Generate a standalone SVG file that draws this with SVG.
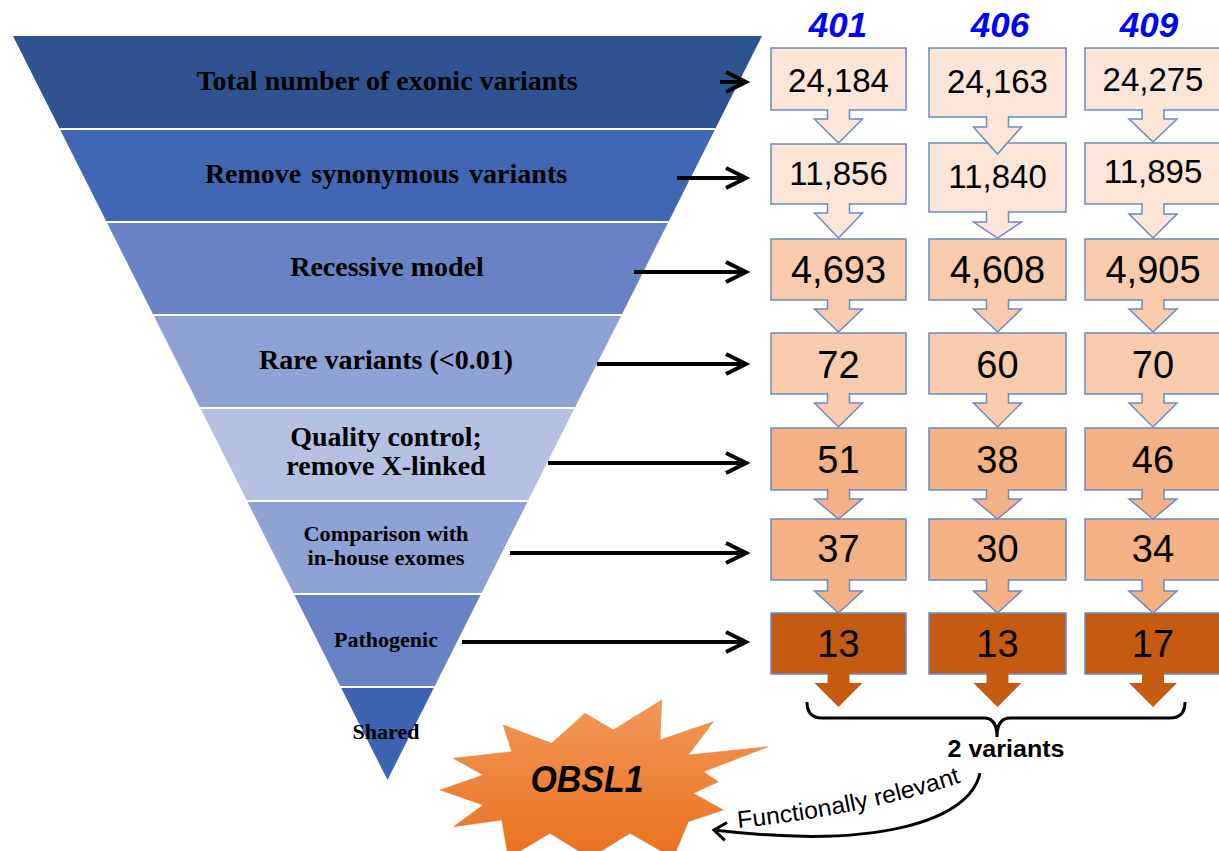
<svg xmlns="http://www.w3.org/2000/svg" width="1219" height="851" viewBox="0 0 1219 851">
<defs>
<style>
.band text{font-family:"Liberation Serif","Times New Roman",serif;font-weight:bold;fill:#000;text-anchor:middle}
.t1{font-size:28px}
.t2{font-size:22px}
.t3{font-size:20.5px}
.sep{stroke:#fff;stroke-width:2}
.box rect{stroke:#6a8ac4;stroke-width:1.5}
.num{font-family:"Liberation Sans",Arial,sans-serif;fill:#000;text-anchor:middle}
.n1{font-size:33px}
.n2{font-size:38px}
.hdr{font-family:"Liberation Sans",Arial,sans-serif;font-weight:bold;font-style:italic;font-size:35px;fill:#0000ff;text-anchor:middle}
.ha{stroke:#000;stroke-width:4;fill:none;marker-end:url(#chev)}
.ba{stroke:#6a8ac4;stroke-width:1.5}
.c1{fill:#fbe5d6}.c2{fill:#f8cbad}.c3{fill:#f4b183}.c4{fill:#c55a11}
</style>
<marker id="chev" viewBox="-26 -15 30 30" markerWidth="30" markerHeight="30" refX="0" refY="0" markerUnits="userSpaceOnUse" orient="auto" overflow="visible">
<path d="M-20,-10 L0,0 L-20,10" fill="none" stroke="#000" stroke-width="4"/>
</marker>
<marker id="chev2" viewBox="-20 -15 25 30" markerWidth="25" markerHeight="30" refX="0" refY="0" markerUnits="userSpaceOnUse" orient="auto" overflow="visible">
<path d="M-12,-9 L0,0 L-12,9" fill="none" stroke="#000" stroke-width="3"/>
</marker>
<linearGradient id="starg" x1="0" y1="0" x2="0" y2="1">
<stop offset="0" stop-color="#f39759"/>
<stop offset="1" stop-color="#e9711e"/>
</linearGradient>
<path id="frpath" d="M 738 828 Q 870 815 980 776"/>
</defs>

<g id="funnel">
<g id="band1" class="band"><polygon points="13,36 762,36 715.2,129 59.8,129" fill="#2f5290"/><text class="t1" x="387" y="90">Total number of exonic variants</text></g>
<g id="band2" class="band"><polygon points="59.8,129 715.2,129 668.4,222 106.6,222" fill="#4066b4"/><text class="t1" x="386" y="183" word-spacing="3">Remove synonymous variants</text></g>
<g id="band3" class="band"><polygon points="106.6,222 668.4,222 621.6,315 153.4,315" fill="#6783c5"/><text class="t1" x="387" y="276">Recessive model</text></g>
<g id="band4" class="band"><polygon points="153.4,315 621.6,315 574.7,408 200.3,408" fill="#8fa2d4"/><text class="t1" x="386" y="369">Rare variants (&lt;0.01)</text></g>
<g id="band5" class="band"><polygon points="200.3,408 574.7,408 527.9,501 247.1,501" fill="#b4c1e2"/><text class="t1" x="386" y="446">Quality control;</text><text class="t1" x="386" y="475">remove X-linked</text></g>
<g id="band6" class="band"><polygon points="247.1,501 527.9,501 481.1,594 293.9,594" fill="#8fa2d4"/><text class="t3" x="386" y="541" textLength="165" lengthAdjust="spacingAndGlyphs">Comparison with</text><text class="t3" x="386" y="565" textLength="157" lengthAdjust="spacingAndGlyphs">in-house exomes</text></g>
<g id="band7" class="band"><polygon points="293.9,594 481.1,594 434.3,687 340.7,687" fill="#6783c5"/><text class="t2" x="386" y="647">Pathogenic</text></g>
<g id="band8" class="band"><polygon points="340.7,687 434.3,687 387.5,780" fill="#3d64b2"/><text class="t2" x="386" y="739">Shared</text></g>
<g id="separators" class="sep">
<line x1="59.8" y1="129" x2="715.2" y2="129"/>
<line x1="106.6" y1="222" x2="668.4" y2="222"/>
<line x1="153.4" y1="315" x2="621.6" y2="315"/>
<line x1="200.3" y1="408" x2="574.7" y2="408"/>
<line x1="247.1" y1="501" x2="527.9" y2="501"/>
<line x1="293.9" y1="594" x2="481.1" y2="594"/>
<line x1="340.7" y1="687" x2="434.3" y2="687"/>
</g>
</g>

<g id="headers">
<text class="hdr" x="838" y="37">401</text>
<text class="hdr" x="1000" y="37">406</text>
<text class="hdr" x="1149" y="37">409</text>
</g>

<g id="boxes">
<g id="b401r1" class="box"><rect class="c1" x="771" y="48" width="135" height="62"/><text class="num n1" x="838.5" y="92">24,184</text></g>
<g id="b406r1" class="box"><rect class="c1" x="929" y="48" width="137" height="69"/><text class="num n1" x="997.5" y="93">24,163</text></g>
<g id="b409r1" class="box"><rect class="c1" x="1085" y="48" width="136" height="62"/><text class="num n1" x="1153" y="91">24,275</text></g>

<g id="b401r2" class="box"><rect class="c1" x="771" y="144" width="135" height="60"/><text class="num n1" x="838.5" y="185">11,856</text></g>
<g id="b406r2" class="box"><rect class="c1" x="929" y="143" width="137" height="69"/><text class="num n1" x="997.5" y="188">11,840</text></g>
<g id="b409r2" class="box"><rect class="c1" x="1085" y="143" width="136" height="61"/><text class="num n1" x="1153" y="183">11,895</text></g>

<g id="b401r3" class="box"><rect class="c2" x="771" y="239" width="135" height="61"/><text class="num n2" x="838.5" y="283">4,693</text></g>
<g id="b406r3" class="box"><rect class="c2" x="929" y="239" width="137" height="61"/><text class="num n2" x="997.5" y="283">4,608</text></g>
<g id="b409r3" class="box"><rect class="c2" x="1085" y="239" width="136" height="61"/><text class="num n2" x="1153" y="283">4,905</text></g>

<g id="b401r4" class="box"><rect class="c2" x="771" y="333" width="135" height="61"/><text class="num n2" x="838.5" y="378">72</text></g>
<g id="b406r4" class="box"><rect class="c2" x="929" y="333" width="137" height="61"/><text class="num n2" x="997.5" y="378">60</text></g>
<g id="b409r4" class="box"><rect class="c2" x="1085" y="333" width="136" height="61"/><text class="num n2" x="1153" y="378">70</text></g>

<g id="b401r5" class="box"><rect class="c3" x="771" y="428" width="135" height="62"/><text class="num n2" x="838.5" y="473">51</text></g>
<g id="b406r5" class="box"><rect class="c3" x="929" y="428" width="137" height="62"/><text class="num n2" x="997.5" y="473">38</text></g>
<g id="b409r5" class="box"><rect class="c3" x="1085" y="428" width="136" height="62"/><text class="num n2" x="1153" y="473">46</text></g>

<g id="b401r6" class="box"><rect class="c3" x="771" y="519" width="135" height="61"/><text class="num n2" x="838.5" y="562">37</text></g>
<g id="b406r6" class="box"><rect class="c3" x="929" y="519" width="137" height="61"/><text class="num n2" x="997.5" y="562">30</text></g>
<g id="b409r6" class="box"><rect class="c3" x="1085" y="519" width="136" height="61"/><text class="num n2" x="1153" y="562">34</text></g>

<g id="b401r7" class="box"><rect class="c4" x="771" y="613" width="135" height="61"/><text class="num n2" x="838.5" y="657">13</text></g>
<g id="b406r7" class="box"><rect class="c4" x="929" y="613" width="137" height="61"/><text class="num n2" x="997.5" y="657">13</text></g>
<g id="b409r7" class="box"><rect class="c4" x="1085" y="613" width="136" height="61"/><text class="num n2" x="1153" y="657">17</text></g>
</g>

<g id="connectors">
<g id="step-arrows">
<path class="ha" d="M720,82 H746"/>
<path class="ha" d="M677,178 H746"/>
<path class="ha" d="M634,272 H746"/>
<path class="ha" d="M597,364 H746"/>
<path class="ha" d="M548,463 H746"/>
<path class="ha" d="M510,553 H746"/>
<path class="ha" d="M462,642 H746"/>
</g>
<g id="block-arrows" class="ba">
<path class="c1" d="M827.5,109 V119 H814.5 L838.5,143 L862.5,119 H849.5 V109"/>
<path class="c1" d="M986.5,116 V127 H973.5 L997.5,154 L1021.5,127 H1008.5 V116"/>
<path class="c1" d="M1142,109 V119 H1129 L1153,142 L1177,119 H1164 V109"/>

<path class="c1" d="M827.5,203 V213 H814.5 L838.5,238 L862.5,213 H849.5 V203"/>
<path class="c1" d="M986.5,211 V222 H973.5 L997.5,238 L1021.5,222 H1008.5 V211"/>
<path class="c1" d="M1142,203 V214 H1129 L1153,238 L1177,214 H1164 V203"/>

<path class="c2" d="M827.5,299 V309 H814.5 L838.5,332 L862.5,309 H849.5 V299"/>
<path class="c2" d="M986.5,299 V309 H973.5 L997.5,332 L1021.5,309 H1008.5 V299"/>
<path class="c2" d="M1142,299 V309 H1129 L1153,332 L1177,309 H1164 V299"/>

<path class="c2" d="M827.5,393 V403 H814.5 L838.5,427 L862.5,403 H849.5 V393"/>
<path class="c2" d="M986.5,393 V403 H973.5 L997.5,427 L1021.5,403 H1008.5 V393"/>
<path class="c2" d="M1142,393 V403 H1129 L1153,427 L1177,403 H1164 V393"/>

<path class="c3" d="M827.5,489 V499 H814.5 L838.5,519 L862.5,499 H849.5 V489"/>
<path class="c3" d="M986.5,489 V499 H973.5 L997.5,519 L1021.5,499 H1008.5 V489"/>
<path class="c3" d="M1142,489 V499 H1129 L1153,519 L1177,499 H1164 V489"/>

<path class="c3" d="M827.5,579 V591 H814.5 L838.5,613 L862.5,591 H849.5 V579"/>
<path class="c3" d="M986.5,579 V591 H973.5 L997.5,613 L1021.5,591 H1008.5 V579"/>
<path class="c3" d="M1142,579 V591 H1129 L1153,613 L1177,591 H1164 V579"/>

<path class="c4" stroke="none" d="M827.5,673 V683 H814.5 L838.5,707 L862.5,683 H849.5 V673 Z"/>
<path class="c4" stroke="none" d="M986.5,673 V683 H973.5 L997.5,707 L1021.5,683 H1008.5 V673 Z"/>
<path class="c4" stroke="none" d="M1142,673 V683 H1129 L1153,707 L1177,683 H1164 V673 Z"/>
</g>
<path id="brace" d="M807,702 Q807,718 822,718 H984 Q997,718 997,737 Q997,718 1010,718 H1170 Q1185,718 1185,702" fill="none" stroke="#000" stroke-width="3"/>
<path id="curved-arrow" d="M980,773 C970,820 880,850 714,830" fill="none" stroke="#000" stroke-width="3" marker-end="url(#chev2)"/>
</g>

<g id="shared-label">
<text x="1006" y="757" font-family="'Liberation Sans',Arial,sans-serif" font-weight="bold" font-size="23" text-anchor="middle" textLength="117" lengthAdjust="spacingAndGlyphs">2 variants</text>
</g>

<g id="relevance-label">
<text font-family="'Liberation Sans',Arial,sans-serif" font-size="24" fill="#000"><textPath href="#frpath" textLength="228" lengthAdjust="spacingAndGlyphs">Functionally relevant</textPath></text>
</g>

<g id="obsl1">
<polygon fill="url(#starg)" stroke="#e07a35" stroke-width="0.5" points="440,790 483.3,775 453.3,758.3 511.7,751.7 503.3,725 551.7,743.3 585,713.3 613.3,730 661.7,700 660,740 713.3,721.7 688.3,755 768.3,746.7 703.3,771.7 718.3,781.7 693.3,793.3 723.3,810 688.3,821.7 673.3,858 630,833.3 590,858 550,833.3 508.3,858 501.7,820 453.3,826.7 483.3,805"/>
<text x="587" y="792" font-family="'Liberation Sans',Arial,sans-serif" font-weight="bold" font-style="italic" font-size="37" text-anchor="middle" textLength="113" lengthAdjust="spacingAndGlyphs">OBSL1</text>
</g>
</svg>
